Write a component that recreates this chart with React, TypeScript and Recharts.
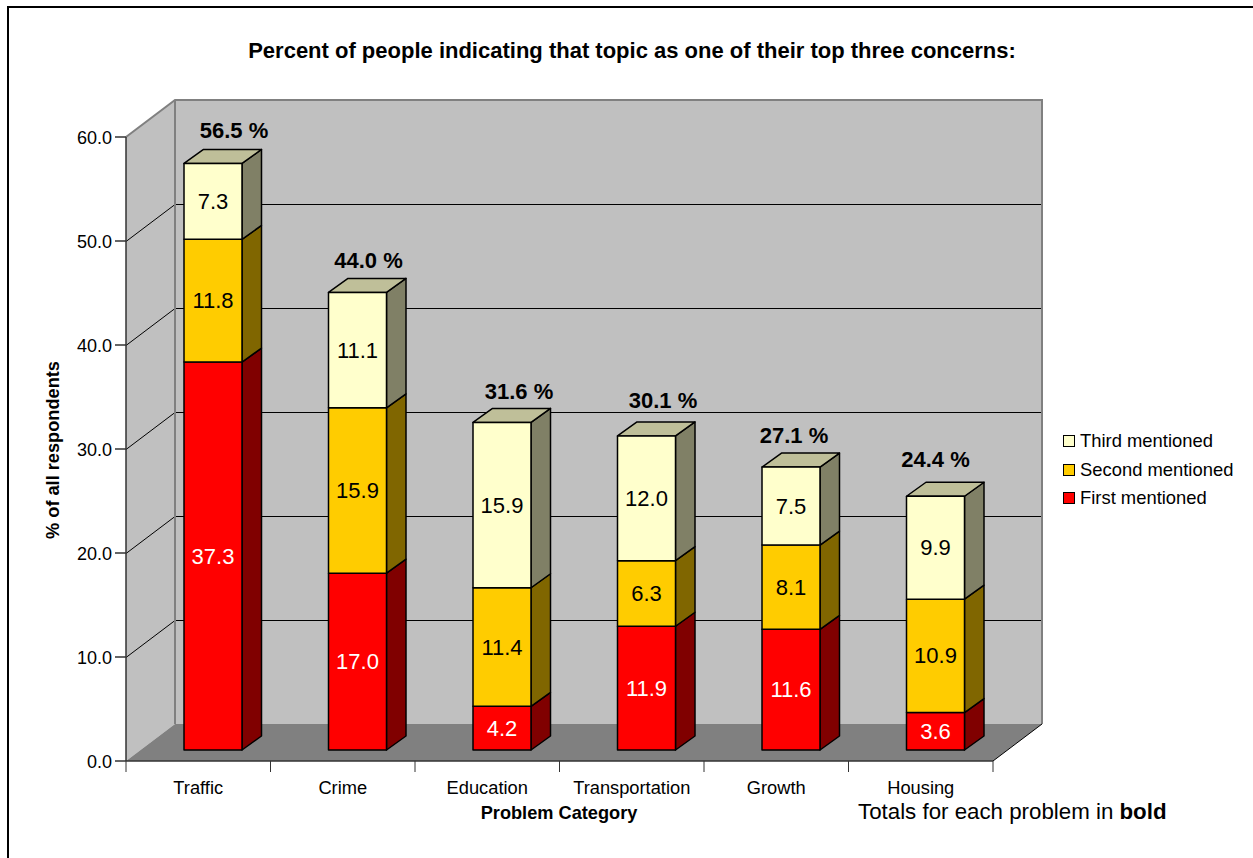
import React from 'react';
import { BarChart, Bar, XAxis, YAxis, Legend, LabelList } from 'recharts';

// Survey results: stacked shares per problem category, with reported totals.
const categories = ['Traffic', 'Crime', 'Education', 'Transportation', 'Growth', 'Housing'];
const firstMentioned = [37.3, 17.0, 4.2, 11.9, 11.6, 3.6];
const secondMentioned = [11.8, 15.9, 11.4, 6.3, 8.1, 10.9];
const thirdMentioned = [7.3, 11.1, 15.9, 12.0, 7.5, 9.9];
const totals = [56.5, 44.0, 31.6, 30.1, 27.1, 24.4];
const valueTicks = [0, 10, 20, 30, 40, 50, 60];

const rows = categories.map((name, i) => ({
  name,
  first: firstMentioned[i],
  second: secondMentioned[i],
  third: thirdMentioned[i],
  total: totals[i],
}));

const FONT = '"Liberation Sans", Arial, sans-serif';
const W = 1253;
const H = 858;
const PLOT = { left: 126, top: 137, width: 867, height: 624 };
const BAND = PLOT.width / categories.length;
// Perspective offsets of the pseudo-3D box.
const ROOM = { dx: 49, dy: 37 };
const BAR_SHIFT = { dx: 15, dy: 11 };
const BAR_DEPTH = { dx: 19.5, dy: 14 };
// Hand placement of the total captions relative to the bar's top centre.
const TOTAL_NUDGE = [
  [21, -33],
  [11, -32],
  [17, -31],
  [16.5, -35],
  [3, -32],
  [0, -37],
];

const Backdrop = () => {
  const { left, top, width, height } = PLOT;
  const right = left + width;
  const bottom = top + height;
  const yOf = (t: number) => bottom - (t / 60) * height + 0.5;
  const { dx, dy } = ROOM;
  return (
    <g>
      <polygon
        points={`${left},${top} ${left + dx},${top - dy} ${left + dx},${bottom - dy} ${left},${bottom}`}
        fill="#C0C0C0"
      />
      <rect x={left + dx} y={top - dy} width={width} height={height} fill="#C0C0C0" />
      <polygon
        points={`${left},${bottom} ${left + dx},${bottom - dy} ${right + dx},${bottom - dy} ${right},${bottom}`}
        fill="#808080"
      />
      {valueTicks
        .filter((t) => t > 0 && t < 60)
        .map((t) => (
          <polyline
            key={t}
            points={`${left},${yOf(t)} ${left + dx},${yOf(t) - dy} ${right + dx},${yOf(t) - dy}`}
            fill="none"
            stroke="#000"
            strokeWidth={1}
          />
        ))}
      <polyline
        points={`${left},${top} ${left + dx},${top - dy} ${right + dx},${top - dy} ${right + dx},${bottom - dy}`}
        fill="none"
        stroke="#808080"
        strokeWidth={2}
      />
      <line x1={left + dx} y1={top - dy} x2={left + dx} y2={bottom - dy} stroke="#808080" strokeWidth={2} />
      <line x1={right} y1={bottom} x2={right + dx} y2={bottom - dy} stroke="#000" strokeWidth={1} />
    </g>
  );
};

const makeBlock =
  (sideFill: string, topFill?: string) =>
  (props: any) => {
    const { x, y, width, height, fill } = props;
    const fx = x + BAR_SHIFT.dx;
    const fy = y - BAR_SHIFT.dy;
    const { dx, dy } = BAR_DEPTH;
    const line = { stroke: '#000', strokeWidth: 1.5, strokeLinejoin: 'round' as const };
    return (
      <g>
        <polygon
          points={`${fx + width},${fy} ${fx + width + dx},${fy - dy} ${fx + width + dx},${fy + height - dy} ${fx + width},${fy + height}`}
          fill={sideFill}
          {...line}
        />
        {topFill && (
          <polygon
            points={`${fx},${fy} ${fx + dx},${fy - dy} ${fx + width + dx},${fy - dy} ${fx + width},${fy}`}
            fill={topFill}
            {...line}
          />
        )}
        <rect x={fx} y={fy} width={width} height={height} fill={fill} {...line} />
      </g>
    );
  };

const segmentLabel = (color: string) => (props: any) => {
  const { x, y, width, height, value } = props;
  return (
    <text
      x={x + width / 2 + BAR_SHIFT.dx}
      y={y + height / 2 - BAR_SHIFT.dy}
      textAnchor="middle"
      dominantBaseline="central"
      fontFamily={FONT}
      fontSize={22}
      fill={color}
    >
      {Number(value).toFixed(1)}
    </text>
  );
};

const TotalCaption = (props: any) => {
  const { x, y, width, index } = props;
  const [nx, ny] = TOTAL_NUDGE[index];
  return (
    <text
      x={x + width / 2 + BAR_SHIFT.dx + nx}
      y={y - BAR_SHIFT.dy + ny}
      textAnchor="middle"
      dominantBaseline="central"
      fontFamily={FONT}
      fontSize={22}
      fontWeight="bold"
      fill="#000"
    >
      {`${totals[index].toFixed(1)} %`}
    </text>
  );
};

const CategoryTick = (props: any) => {
  const { x, payload, index } = props;
  const axisY = PLOT.top + PLOT.height;
  return (
    <g>
      <line x1={x - BAND / 2} y1={axisY} x2={x - BAND / 2} y2={axisY + 11} stroke="#333" />
      {index === categories.length - 1 && (
        <line x1={x + BAND / 2} y1={axisY} x2={x + BAND / 2} y2={axisY + 11} stroke="#333" />
      )}
      <text x={x} y={axisY + 26} textAnchor="middle" dominantBaseline="central" fontFamily={FONT} fontSize={18.3} fill="#000">
        {payload.value}
      </text>
    </g>
  );
};

const LegendRows = (props: any) => {
  const items = [...(props.payload || [])].reverse();
  return (
    <div style={{ fontFamily: FONT, fontSize: 18.4, color: '#000' }}>
      {items.map((it: any) => (
        <div key={it.value} style={{ display: 'flex', alignItems: 'center', height: 28.5, whiteSpace: 'nowrap' }}>
          <span
            style={{
              display: 'inline-block',
              width: 10,
              height: 10,
              marginRight: 5,
              background: it.color,
              border: '1.5px solid #000',
            }}
          />
          {it.value}
        </div>
      ))}
    </div>
  );
};

export default function App() {
  return (
    <div style={{ position: 'absolute', left: 0, top: 0, width: W, height: H, overflow: 'hidden', background: '#fff' }}>
      <BarChart
        width={W}
        height={H}
        data={rows}
        barSize={58}
        margin={{ left: PLOT.left - 60, top: PLOT.top, right: W - PLOT.left - PLOT.width, bottom: H - PLOT.top - PLOT.height - 40 }}
      >
        <Backdrop />
        <path d={`M8,${H} V7 H${W}`} fill="none" stroke="#000" strokeWidth={2} />
        <text x={632} y={50} textAnchor="middle" dominantBaseline="central" fontFamily={FONT} fontSize={22} fontWeight="bold" fill="#000">
          Percent of people indicating that topic as one of their top three concerns:
        </text>
        <text
          x={53}
          y={450}
          transform="rotate(-90 53 450)"
          textAnchor="middle"
          dominantBaseline="central"
          fontFamily={FONT}
          fontSize={18.2}
          fontWeight="bold"
          fill="#000"
        >
          % of all respondents
        </text>
        <text x={559} y={813} textAnchor="middle" dominantBaseline="central" fontFamily={FONT} fontSize={18.2} fontWeight="bold" fill="#000">
          Problem Category
        </text>
        <text x={858} y={811} dominantBaseline="central" fontFamily={FONT} fontSize={22.3} fill="#000">
          Totals for each problem in <tspan fontWeight="bold">bold</tspan>
        </text>
        <XAxis
          dataKey="name"
          height={40}
          tickLine={false}
          axisLine={{ stroke: '#333', strokeWidth: 1.5 }}
          tick={<CategoryTick />}
          interval={0}
        />
        <YAxis
          width={60}
          domain={[0, 60]}
          ticks={valueTicks}
          tickFormatter={(v: number) => v.toFixed(1)}
          tickSize={11}
          tickMargin={3}
          tickLine={{ stroke: '#333', strokeWidth: 1.5 }}
          axisLine={{ stroke: '#333', strokeWidth: 1.5 }}
          tick={{ fontFamily: FONT, fontSize: 18, fill: '#000', dy: 1 }}
          interval={0}
        />
        <Bar dataKey="first" name="First mentioned" stackId="s" fill="#FF0000" isAnimationActive={false} shape={makeBlock('#800000')}>
          <LabelList dataKey="first" content={segmentLabel('#FFFFFF')} />
        </Bar>
        <Bar dataKey="second" name="Second mentioned" stackId="s" fill="#FFCC00" isAnimationActive={false} shape={makeBlock('#806600')}>
          <LabelList dataKey="second" content={segmentLabel('#000')} />
        </Bar>
        <Bar dataKey="third" name="Third mentioned" stackId="s" fill="#FFFFCC" isAnimationActive={false} shape={makeBlock('#808066', '#BFBF99')}>
          <LabelList dataKey="third" content={segmentLabel('#000')} />
          <LabelList dataKey="total" content={TotalCaption} />
        </Bar>
        <Legend
          layout="horizontal"
          align="center"
          verticalAlign="middle"
          content={<LegendRows />}
          wrapperStyle={{ position: 'absolute', left: 1063, top: 427, width: 190 }}
        />
      </BarChart>
    </div>
  );
}
